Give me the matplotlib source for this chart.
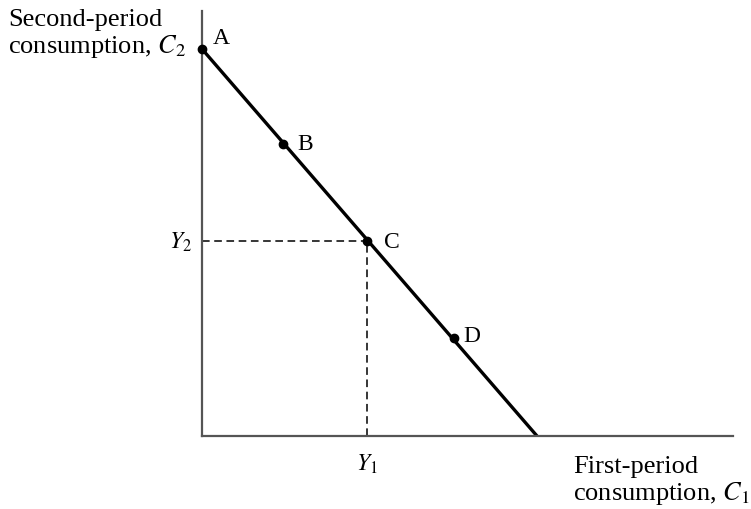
import matplotlib
matplotlib.use("Agg")
import matplotlib.pyplot as plt

plt.rcParams['font.family'] = ['Liberation Serif', 'DejaVu Serif']
plt.rcParams['mathtext.fontset'] = 'stix'

# Budget line (arbitrary units)
c1_intercept = 335
c2_intercept = 387
point_names = ['A', 'B', 'C', 'D']
point_c1 = [0, 81, 165, 252]
point_c2 = [387, 292, 195, 98]
y1_value = 165
y2_value = 195

fig = plt.figure(figsize=(7.51, 5.10), dpi=100)
# axes origin at pixel (202, 437), running to (733, 12)
ax = fig.add_axes([202 / 751, (510 - 437) / 510, (733 - 202) / 751, (437 - 12) / 510])
ax.set_xlim(0, 531)
ax.set_ylim(0, 425)

for side in ['top', 'right']:
    ax.spines[side].set_visible(False)
for side in ['left', 'bottom']:
    ax.spines[side].set_color('#555555')
    ax.spines[side].set_linewidth(1.6)
ax.set_xticks([])
ax.set_yticks([])

# budget line
ax.plot([0, c1_intercept], [c2_intercept, 0], color='black', lw=2.4, solid_capstyle='butt')
ax.plot(point_c1, point_c2, 'o', color='black', ms=6, clip_on=False, zorder=5)

# dashed guides to Y1 and Y2
ax.plot([0, y1_value], [y2_value, y2_value], color='black', lw=1.1, ls=(0, (5, 3)))
ax.plot([y1_value, y1_value], [0, y2_value], color='black', lw=1.1, ls=(0, (5, 3)))

offsets = {'A': (8, 8), 'B': (10, 0), 'C': (12, 0), 'D': (7, 2)}
for name, x, y in zip(point_names, point_c1, point_c2):
    ax.annotate(name, (x, y), xytext=offsets[name], textcoords='offset points',
                fontsize=17, va='center', ha='left')

ax.annotate('$Y_2$', (0, y2_value), xytext=(-7, 0), textcoords='offset points',
            fontsize=17, va='center', ha='right')
ax.annotate('$Y_1$', (y1_value, 0), xytext=(0, -11), textcoords='offset points',
            fontsize=17, va='top', ha='center')

fig.text(8 / 751, 1 - 9 / 510, 'Second-period\nconsumption, $C_2$', fontsize=19,
         ha='left', va='top', linespacing=1.1)
fig.text(573 / 751, 1 - 456 / 510, 'First-period\nconsumption, $C_1$', fontsize=19,
         ha='left', va='top', linespacing=1.1)

fig.savefig('out.png', dpi=100)
